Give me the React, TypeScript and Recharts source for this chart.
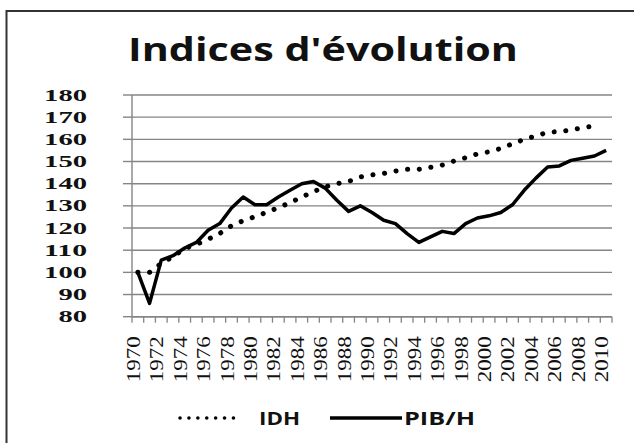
import React from "react";
import { LineChart, Line, XAxis, YAxis, CartesianGrid } from "recharts";

const years = [
  1970, 1971, 1972, 1973, 1974, 1975, 1976, 1977, 1978, 1979,
  1980, 1981, 1982, 1983, 1984, 1985, 1986, 1987, 1988, 1989,
  1990, 1991, 1992, 1993, 1994, 1995, 1996, 1997, 1998, 1999,
  2000, 2001, 2002, 2003, 2004, 2005, 2006, 2007, 2008, 2009, 2010,
];

const pibH = [
  100, 86, 105.5, 107.5, 111, 113.5, 119, 122, 129, 134,
  130.5, 130.5, 134, 137, 140, 141, 138, 132.5, 127.5, 130,
  127, 123.5, 122, 117.5, 113.5, 116, 118.5, 117.5, 122, 124.5,
  125.5, 127, 130.5, 137, 142.5, 147.5, 148, 150.5, 151.5, 152.5, 155,
];

const idh: (number | null)[] = [
  100, 100, 104, 107, 110.8, 112.6, 114.9, 117.6, 121, 123.3,
  125.1, 127.1, 129.2, 131.4, 134, 136.4, 138.6, 140, 141, 143,
  144, 144.6, 145.7, 146.5, 146.5, 147.4, 148.4, 150.2, 151.7, 153.4,
  154.4, 155.9, 158, 160, 161.5, 163.2, 163.5, 164.2, 165.3, 166, null,
];

const yTicks = [80, 90, 100, 110, 120, 130, 140, 150, 160, 170, 180];

const data = years.map((y, i) => ({ year: y, idh: idh[i], pib: pibH[i] }));

const W = 634;
const H = 443;
const Y_AXIS_W = 132;
const RIGHT = 22;
const PLOT_W = W - Y_AXIS_W - RIGHT;
const STEP = PLOT_W / years.length;
const GRID = "#858585";

const YTick = (props: any) => {
  const { x, y, payload } = props;
  const s = String(payload.value);
  return (
    <text
      x={x}
      y={y}
      textAnchor="end"
      dominantBaseline="central"
      fontFamily="Liberation Serif"
      fontWeight="bold"
      fontSize={16.5}
      fill="#111"
      textLength={s.length * 14.3}
      lengthAdjust="spacingAndGlyphs"
    >
      {s}
    </text>
  );
};

const XTick = (props: any) => {
  const { x, y, payload, index } = props;
  const v = Number(payload.value);
  return (
    <g>
      {index === 0 && (
        <line x1={x - STEP / 2} x2={x - STEP / 2} y1={y} y2={y + 6} stroke={GRID} strokeWidth={1.3} />
      )}
      <line x1={x + STEP / 2} x2={x + STEP / 2} y1={y} y2={y + 6} stroke={GRID} strokeWidth={1.3} />
      {v % 2 === 0 && (
        <text
          transform={`translate(${x - 4}, ${y + 19.5}) rotate(-90)`}
          textAnchor="end"
          dominantBaseline="central"
          fontFamily="Liberation Serif"
          fontSize={18.5}
          fill="#111"
          textLength={46}
          lengthAdjust="spacingAndGlyphs"
        >
          {String(v)}
        </text>
      )}
    </g>
  );
};

export default function App() {
  return (
    <div style={{ position: "absolute", left: 0, top: 0, width: W, height: H, background: "#fff", overflow: "hidden" }}>
      <div style={{ position: "absolute", left: 0, top: 0 }}>
        <LineChart
          width={W}
          height={H}
          data={data}
          margin={{ top: 95, right: RIGHT, bottom: 66.3, left: 0 }}
        >
          <CartesianGrid horizontal vertical={false} stroke={GRID} strokeWidth={1.4} />
          <XAxis
            dataKey="year"
            interval={0}
            height={60}
            tickSize={0}
            tickMargin={0}
            tickLine={false}
            axisLine={{ stroke: GRID, strokeWidth: 1.4 }}
            padding={{ left: STEP / 2, right: STEP / 2 }}
            tick={(p: any) => <XTick {...p} />}
          />
          <YAxis
            width={Y_AXIS_W}
            domain={[80, 180]}
            ticks={yTicks}
            interval={0}
            tickSize={9}
            tickMargin={36}
            tickLine={{ stroke: GRID, strokeWidth: 1.4 }}
            axisLine={{ stroke: GRID, strokeWidth: 1.4 }}
            tick={(p: any) => <YTick {...p} />}
          />
          <Line
            dataKey="idh"
            stroke="#000"
            strokeWidth={5}
            strokeDasharray="0.1 11.6"
            strokeLinecap="round"
            dot={false}
            activeDot={false}
            isAnimationActive={false}
          />
          <Line
            dataKey="pib"
            stroke="#000"
            strokeWidth={3.5}
            strokeLinejoin="round"
            dot={false}
            activeDot={false}
            isAnimationActive={false}
          />
        </LineChart>
      </div>
      <svg
        width={W}
        height={H}
        style={{ position: "absolute", left: 0, top: 0, pointerEvents: "none" }}
      >
        <rect x={6.5} y={11} width={W + 20} height={H + 20} fill="none" stroke="#333" strokeWidth={2} />
        <text
          x={128}
          y={61}
          fontFamily="Open Sans"
          fontWeight="bold"
          fontSize={32}
          fill="#111"
          textLength={390}
          lengthAdjust="spacingAndGlyphs"
        >
          Indices d'évolution
        </text>
        <line x1={180} x2={242} y1={418} y2={418} stroke="#000" strokeWidth={3.5} strokeDasharray="0.1 8.8" strokeLinecap="round" />
        <text x={259} y={424.5} fontFamily="Open Sans" fontWeight="bold" fontSize={18} fill="#111" textLength={41} lengthAdjust="spacingAndGlyphs">
          IDH
        </text>
        <line x1={330} x2={402} y1={418} y2={418} stroke="#000" strokeWidth={3.5} />
        <text x={404} y={424.5} fontFamily="Open Sans" fontWeight="bold" fontSize={18} fill="#111" textLength={71} lengthAdjust="spacingAndGlyphs">
          PIB/H
        </text>
      </svg>
    </div>
  );
}
